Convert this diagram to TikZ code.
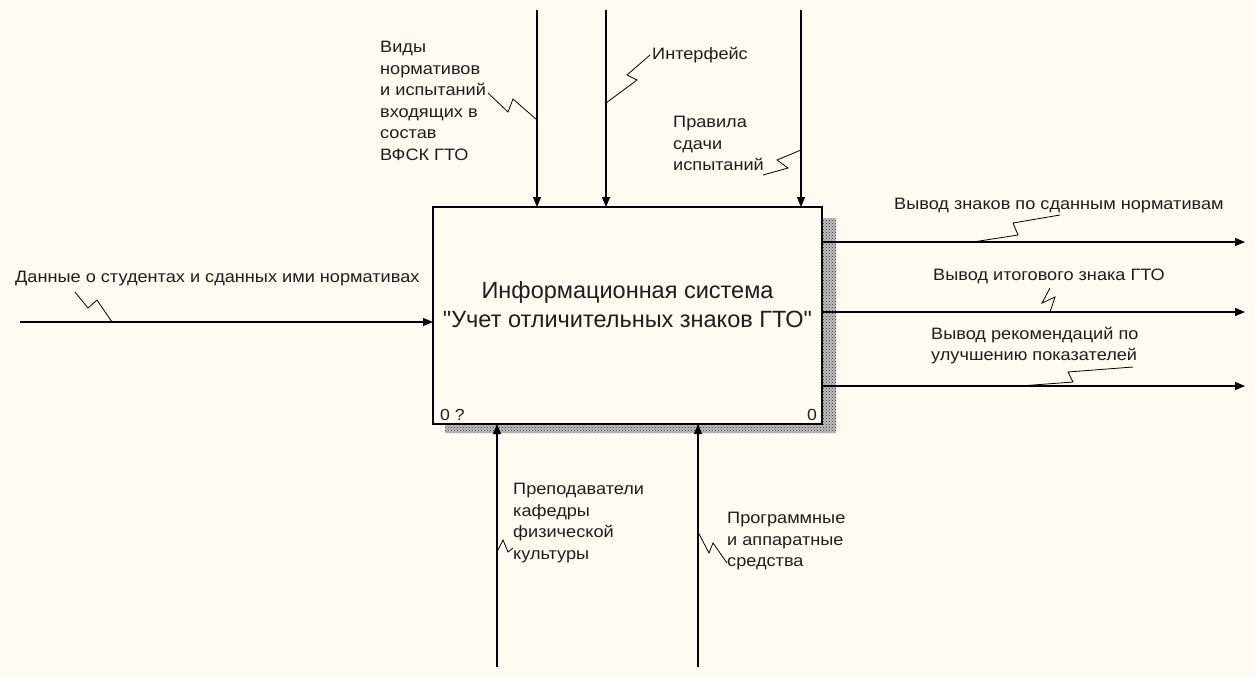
\documentclass[tikz,border=0pt]{standalone}
\usepackage{fontspec}
\setmainfont{Liberation Sans}
\newfontfamily\lblfont{Liberation Sans}[FakeStretch=1.1]
\newfontfamily\titlefont{Liberation Sans}[Ligatures=TeXOff]
\usetikzlibrary{arrows.meta,patterns}
\definecolor{paper}{HTML}{FFFBF0}
\definecolor{ink}{HTML}{1E1E1E}

\begin{document}
\begin{tikzpicture}[x=1pt,y=-1pt,
  lbl/.style={anchor=north west,inner sep=0pt,align=left,text=ink,
              font=\lblfont\fontsize{16.5}{21.5}\selectfont},
  flow/.style={line width=1.1pt,-{Triangle[length=10pt,width=8pt]}},
  squig/.style={line width=0.8pt},
  actbox/.style={draw=black,line width=2.8pt,fill=paper,
                 minimum width=389pt,minimum height=217pt,
                 inner sep=0pt,outer sep=0pt}]

% page
\fill[paper] (0,0) rectangle (1255,678);

% dotted drop shadow of the activity box
\fill[gray!50] (822,218) -- (836,218) -- (836,433) -- (445,433) -- (445,424) -- (822,424) -- cycle;
\fill[pattern=crosshatch dots,pattern color=gray!40!black]
  (822,218) -- (836,218) -- (836,433) -- (445,433) -- (445,424) -- (822,424) -- cycle;

% activity box
\node[actbox] (sys) at (627.5,315.5) {};
\node[anchor=center,align=center,text=ink,inner sep=0pt,
      font=\titlefont\fontsize{23.5}{29}\selectfont] (title) at (627.5,305)
  {Информационная система\\"Учет отличительных знаков ГТО"};
\node[anchor=base west,inner sep=0pt,text=ink,font=\lblfont\fontsize{16}{20}\selectfont]
  (num) at (440,420) {0 ?};
\node[anchor=base east,inner sep=0pt,text=ink,font=\lblfont\fontsize{16}{20}\selectfont]
  (nodeno) at (817,420) {0};

% free ends of the arrows
\coordinate (c1) at (537,10);
\coordinate (c2) at (606,10);
\coordinate (c3) at (801,10);
\coordinate (i1) at (20,322);
\coordinate (o1) at (1245,242);
\coordinate (o2) at (1245,312);
\coordinate (o3) at (1245,386);
\coordinate (m1) at (497,667);
\coordinate (m2) at (698,667);

% controls
\draw[flow] (c1) -- (c1 |- sys.north);
\draw[flow] (c2) -- (c2 |- sys.north);
\draw[flow] (c3) -- (c3 |- sys.north);
% input
\draw[flow] (i1) -- (i1 -| sys.west);
% outputs
\draw[flow] (o1 -| sys.east) -- (o1);
\draw[flow] (o2 -| sys.east) -- (o2);
\draw[flow] (o3 -| sys.east) -- (o3);
% mechanisms
\draw[flow] (m1) -- (m1 |- sys.south);
\draw[flow] (m2) -- (m2 |- sys.south);

% labels
\node[lbl] (lc1) at (380,41) {Виды\\нормативов\\и испытаний\\входящих в\\состав\\ВФСК ГТО};
\node[lbl] (lc2) at (652,47) {Интерфейс};
\node[lbl] (lc3) at (673,116) {Правила\\сдачи\\испытаний};
\node[lbl] (li1) at (15,271) {Данные о студентах и сданных ими нормативах};
\node[lbl] (lo1) at (894,198) {Вывод знаков по сданным нормативам};
\node[lbl] (lo2) at (933,269) {Вывод итогового знака ГТО};
\node[lbl] (lo3) at (931,327) {Вывод рекомендаций по\\улучшению показателей};
\node[lbl] (lm1) at (513,483) {Преподаватели\\кафедры\\физической\\культуры};
\node[lbl] (lm2) at (727,512) {Программные\\и аппаратные\\средства};

% label leaders
\draw[squig] (488,93) -- (508,112) -- (513,99) -- (537,120);
\draw[squig] (606,103) -- (637,80) -- (627,75) -- (650,55);
\draw[squig] (763,175) -- (788,168) -- (777,160) -- (801,150);
\draw[squig] (75,292) -- (88,308) -- (97,300) -- (112,322);
\draw[squig] (973,242) -- (1018,235) -- (1013,223) -- (1060,215);
\draw[squig] (1050,312) -- (1055,297) -- (1042,303) -- (1050,288);
\draw[squig] (1020,386) -- (1073,382) -- (1068,372) -- (1133,367);
\draw[squig] (497,552) -- (503,540) -- (508,552) -- (513,548);
\draw[squig] (698,532) -- (709,553) -- (713,543) -- (727,563);
\end{tikzpicture}
\end{document}
